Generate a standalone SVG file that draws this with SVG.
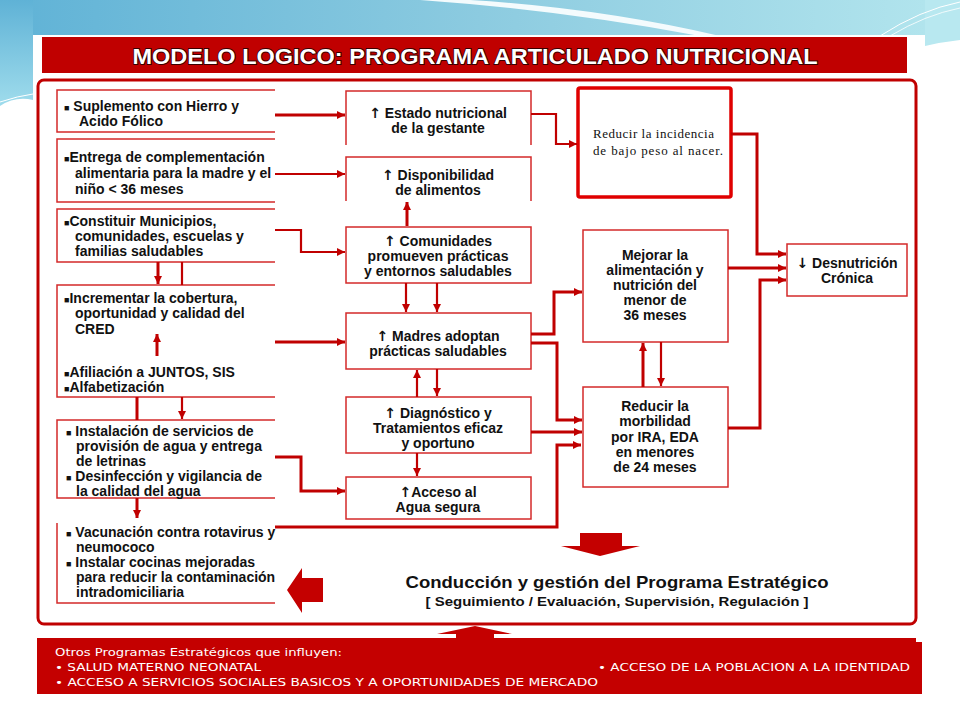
<svg xmlns="http://www.w3.org/2000/svg" width="960" height="720" viewBox="0 0 960 720">
<defs>
<linearGradient id="sky" x1="0" y1="0" x2="1" y2="0">
<stop offset="0" stop-color="#5fb2d6"/>
<stop offset="0.5" stop-color="#8ccbe0"/>
<stop offset="1" stop-color="#b4e6ee"/>
</linearGradient>
<linearGradient id="sideL" x1="0" y1="0" x2="0" y2="1">
<stop offset="0" stop-color="#5fb2d6"/>
<stop offset="1" stop-color="#9fdcec"/>
</linearGradient>
<marker id="ah" viewBox="0 0 10 10" refX="10" refY="5" markerWidth="9" markerHeight="8" markerUnits="userSpaceOnUse" orient="auto">
<path d="M0,0 L10,5 L0,10 z" fill="#c00000"/>
</marker>
<style>
.cn{fill:none;stroke:#c00000;stroke-width:3;}
.cnt{fill:none;stroke:#c00000;stroke-width:2.2;}
.bx{fill:none;stroke:#d42a2a;stroke-width:1.5;}
.bxf{fill:#fff;stroke:#d42a2a;stroke-width:1.5;}
.lt{font-family:"Liberation Sans",Arial,sans-serif;font-weight:bold;font-size:14px;fill:#111;}
.ct{font-family:"Liberation Sans",Arial,sans-serif;font-weight:bold;font-size:14px;fill:#111;text-anchor:middle;}
.bul{font-size:9px;}
.ar{font-family:"DejaVu Sans",sans-serif;font-weight:bold;}
.bt{font-family:"DejaVu Sans",Verdana,sans-serif;font-size:10.5px;fill:#fff;}
.sf{font-family:"Liberation Serif","Times New Roman",serif;font-size:13px;fill:#111;}
</style>
</defs>
<rect width="960" height="720" fill="#ffffff"/>
<!-- background decoration -->
<rect x="0" y="0" width="960" height="40" fill="url(#sky)"/>
<path d="M0,0 H33 V100 Q15,96 0,106 Z" fill="url(#sideL)"/>
<path d="M925,0 H960 V40 Q942,42 925,46 Z" fill="#b8e8f0"/>
<path d="M420,0 Q560,10 700,36 L720,36 Q600,8 470,0 Z" fill="#f4fbfd"/>
<path d="M880,36 Q920,10 960,2" fill="none" stroke="#ffffff" stroke-width="1"/>
<path d="M890,36 Q925,15 960,8" fill="none" stroke="#ffffff" stroke-width="0.8"/>
<path d="M0,102 Q18,96 33,94" fill="none" stroke="#ffffff" stroke-width="1"/>
<rect x="33" y="35" width="892" height="670" fill="#ffffff"/>

<!-- header -->
<g id="header">
<rect x="42" y="37" width="865" height="36" fill="#c00000"/>
<text x="475" y="64" text-anchor="middle" font-family="'Liberation Sans',Arial,sans-serif" font-weight="bold" font-size="22" fill="#ffffff" stroke="#3a0000" stroke-width="1.8" paint-order="stroke fill" textLength="685" lengthAdjust="spacingAndGlyphs">MODELO LOGICO: PROGRAMA ARTICULADO NUTRICIONAL</text>
</g>

<!-- main frame -->
<rect id="frame" x="38" y="80" width="878" height="544" rx="6" fill="#ffffff" stroke="#c00000" stroke-width="3"/>

<!-- left column -->
<g id="L1">
<path class="bx" d="M275,90 H57 V132 H275"/>
<text class="lt" x="64" y="111"><tspan class="bul">■</tspan> Suplemento con Hierro y</text>
<text class="lt" x="79" y="126">Acido Fólico</text>
</g>
<g id="L2">
<path class="bx" d="M275,139 H57 V202 H275"/>
<text class="lt" x="64" y="162"><tspan class="bul">■</tspan>Entrega de complementación</text>
<text class="lt" x="75" y="178">alimentaria para la madre y el</text>
<text class="lt" x="75" y="194">niño &lt; 36 meses</text>
</g>
<g id="L3">
<path class="bx" d="M275,209 H57 V262 H275"/>
<text class="lt" x="64" y="226"><tspan class="bul">■</tspan>Constituir Municipios,</text>
<text class="lt" x="75" y="241">comunidades, escuelas y</text>
<text class="lt" x="75" y="256">familias saludables</text>
</g>
<g id="L4">
<path class="bx" d="M275,285 H57 V397 H275"/>
<text class="lt" x="64" y="303"><tspan class="bul">■</tspan>Incrementar la cobertura,</text>
<text class="lt" x="75" y="318">oportunidad y calidad del</text>
<text class="lt" x="75" y="334">CRED</text>
<text class="lt" x="64" y="377"><tspan class="bul">■</tspan>Afiliación a JUNTOS, SIS</text>
<text class="lt" x="64" y="392"><tspan class="bul">■</tspan>Alfabetización</text>
</g>
<g id="L5">
<path class="bx" d="M275,420 H57 V498 H275"/>
<text class="lt" x="66" y="436"><tspan class="bul">■</tspan> Instalación de servicios de</text>
<text class="lt" x="76" y="451">provisión de agua y entrega</text>
<text class="lt" x="76" y="466">de letrinas</text>
<text class="lt" x="66" y="481"><tspan class="bul">■</tspan> Desinfección y vigilancia de</text>
<text class="lt" x="76" y="496">la calidad del agua</text>
</g>
<g id="L6">
<path class="bx" d="M57,523 V603 H275"/>
<text class="lt" x="66" y="537"><tspan class="bul">■</tspan> Vacunación contra rotavirus y</text>
<text class="lt" x="76" y="552">neumococo</text>
<text class="lt" x="66" y="567"><tspan class="bul">■</tspan> Instalar cocinas mejoradas</text>
<text class="lt" x="76" y="582">para reducir la contaminación</text>
<text class="lt" x="76" y="597">intradomiciliaria</text>
</g>

<!-- middle column -->
<g id="M1">
<path class="bx" d="M346,145 V91 H531 V145"/>
<text class="ct" x="438" y="118"><tspan class="ar">↑</tspan> Estado nutricional</text>
<text class="ct" x="438" y="133">de la gestante</text>
</g>
<g id="M2">
<path class="bx" d="M346,201 V157 H531 V201"/>
<text class="ct" x="438" y="180"><tspan class="ar">↑</tspan> Disponibilidad</text>
<text class="ct" x="438" y="195">de alimentos</text>
</g>
<g id="M3">
<rect class="bxf" x="346" y="227" width="185" height="56"/>
<text class="ct" x="438" y="246"><tspan class="ar">↑</tspan> Comunidades</text>
<text class="ct" x="438" y="261">promueven prácticas</text>
<text class="ct" x="438" y="276">y entornos saludables</text>
</g>
<g id="M4">
<rect class="bxf" x="346" y="313" width="185" height="56"/>
<text class="ct" x="438" y="341"><tspan class="ar">↑</tspan> Madres adoptan</text>
<text class="ct" x="438" y="356">prácticas saludables</text>
</g>
<g id="M5">
<rect class="bxf" x="346" y="397" width="185" height="56"/>
<text class="ct" x="438" y="418"><tspan class="ar">↑</tspan> Diagnóstico y</text>
<text class="ct" x="438" y="433">Tratamientos eficaz</text>
<text class="ct" x="438" y="448">y oportuno</text>
</g>
<g id="M6">
<rect class="bxf" x="346" y="477" width="185" height="42"/>
<text class="ct" x="438" y="497"><tspan class="ar">↑</tspan>Acceso al</text>
<text class="ct" x="438" y="512">Agua segura</text>
</g>

<!-- right column -->
<g id="R1">
<rect x="578" y="88" width="153" height="109" rx="2" fill="#ffffff" stroke="#e00000" stroke-width="3.5"/>
<text class="sf" x="593" y="138" textLength="121" lengthAdjust="spacing">Reducir  la incidencia</text>
<text class="sf" x="593" y="155" textLength="130" lengthAdjust="spacing">de bajo  peso  al nacer.</text>
</g>
<g id="R2">
<rect class="bxf" x="583" y="230" width="145" height="112"/>
<text class="ct" x="655" y="260">Mejorar la</text>
<text class="ct" x="655" y="275">alimentación y</text>
<text class="ct" x="655" y="290">nutrición del</text>
<text class="ct" x="655" y="305">menor de</text>
<text class="ct" x="655" y="320">36 meses</text>
</g>
<g id="R3">
<rect class="bxf" x="583" y="387" width="145" height="100"/>
<text class="ct" x="655" y="411">Reducir la</text>
<text class="ct" x="655" y="426">morbilidad</text>
<text class="ct" x="655" y="442">por IRA, EDA</text>
<text class="ct" x="655" y="457">en menores</text>
<text class="ct" x="655" y="472">de 24 meses</text>
</g>
<g id="R4">
<rect class="bxf" x="787" y="244" width="120" height="52"/>
<text class="ct" x="847" y="268"><tspan class="ar">↓</tspan> Desnutrición</text>
<text class="ct" x="847" y="283">Crónica</text>
</g>

<!-- connectors -->
<g id="connectors">
<path class="cn" d="M275,115 H345" marker-end="url(#ah)"/>
<path class="cnt" d="M275,174 H345" marker-end="url(#ah)"/>
<path class="cnt" d="M275,230 H301 V252 H345" marker-end="url(#ah)"/>
<path class="cn" d="M275,342 H345" marker-end="url(#ah)"/>
<path class="cn" d="M275,457 H301 V491 H345" marker-end="url(#ah)"/>
<path class="cn" d="M275,527 H557 V445 H581" marker-end="url(#ah)"/>
<path class="cnt" d="M531,114 H556 V144 H577" marker-end="url(#ah)"/>
<path class="cn" d="M531,334 H554 V292 H582" marker-end="url(#ah)"/>
<path class="cn" d="M531,343 H557 V420 H582" marker-end="url(#ah)"/>
<path class="cn" d="M531,432 H582" marker-end="url(#ah)"/>
<path class="cn" d="M407,226 V202" marker-end="url(#ah)"/>
<path class="cnt" d="M406,283 V312" marker-end="url(#ah)"/>
<path class="cnt" d="M437,283 V312" marker-end="url(#ah)"/>
<path class="cnt" d="M417,397 V370" marker-end="url(#ah)"/>
<path class="cnt" d="M437,369 V396" marker-end="url(#ah)"/>
<path class="cnt" d="M417,453 V476" marker-end="url(#ah)"/>
<path class="cn" d="M731,134 H757 V254 H786" marker-end="url(#ah)"/>
<path class="cn" d="M728,268 H786" marker-end="url(#ah)"/>
<path class="cn" d="M728,428 H760 V280 H786" marker-end="url(#ah)"/>
<path class="cn" d="M643,387 V343" marker-end="url(#ah)"/>
<path class="cnt" d="M661,342 V386" marker-end="url(#ah)"/>
<path class="cn" d="M158,262 V284" marker-end="url(#ah)"/>
<path class="cnt" d="M182,262 V285"/>
<path class="cn" d="M157,356 V334" marker-end="url(#ah)"/>
<path class="cn" d="M137,397 V420"/>
<path class="cnt" d="M182,397 V419" marker-end="url(#ah)"/>
<path class="cn" d="M137,498 V518" marker-end="url(#ah)"/>
</g>

<!-- block arrows -->
<g id="arrows-block" fill="#c40000">
<path d="M580,533 H622 V546 H640 L600,556 L561,546 H580 Z"/>
<path d="M323,578 V602 H302 V613 L287,590 L302,568 V578 Z"/>
<path d="M475,626 L512,634 H494 V640 H456 V634 H437 Z"/>
</g>

<!-- conduction text -->
<g id="conduccion">
<text x="617" y="588" text-anchor="middle" font-family="'Liberation Sans',Arial,sans-serif" font-weight="bold" font-size="16.5" fill="#111" textLength="423" lengthAdjust="spacingAndGlyphs">Conducción y gestión del Programa Estratégico</text>
<text x="617" y="606" text-anchor="middle" font-family="'Liberation Sans',Arial,sans-serif" font-weight="bold" font-size="12.5" fill="#111" textLength="383" lengthAdjust="spacingAndGlyphs">[ Seguimiento / Evaluación, Supervisión, Regulación ]</text>
</g>

<!-- bottom band -->
<g id="otros">
<path d="M37,638 H916 V642 H922 V694 H37 Z" fill="#c40000"/>
<text class="bt" x="55" y="656" textLength="287" lengthAdjust="spacingAndGlyphs">Otros Programas Estratégicos que influyen:</text>
<text class="bt" x="55" y="671" textLength="206" lengthAdjust="spacingAndGlyphs">• SALUD MATERNO NEONATAL</text>
<text class="bt" x="598" y="671" textLength="312" lengthAdjust="spacingAndGlyphs">• ACCESO DE LA POBLACION A LA IDENTIDAD</text>
<text class="bt" x="55" y="686" textLength="543" lengthAdjust="spacingAndGlyphs">• ACCESO A SERVICIOS  SOCIALES BASICOS Y A OPORTUNIDADES  DE MERCADO</text>
</g>
</svg>
